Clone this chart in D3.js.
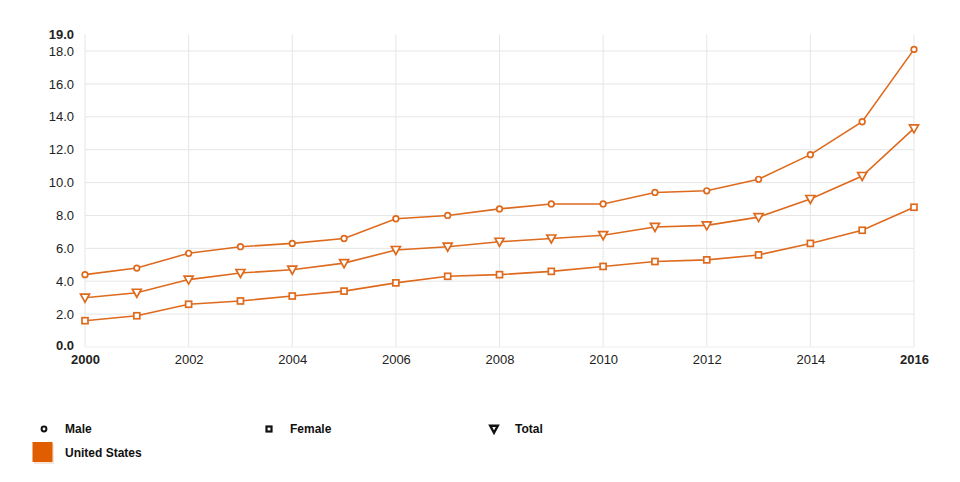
<!DOCTYPE html>
<html><head><meta charset="utf-8">
<script src="https://cdn.jsdelivr.net/npm/d3@7"></script>
<style>
body{margin:0;background:#fff;font-family:"Liberation Sans",Arial,Helvetica,sans-serif;}
</style></head>
<body><svg id="c" width="960" height="482"></svg>
<script>
const years = [2000,2001,2002,2003,2004,2005,2006,2007,2008,2009,2010,2011,2012,2013,2014,2015,2016];
const male   = [4.4,4.8,5.7,6.1,6.3,6.6,7.8,8.0,8.4,8.7,8.7,9.4,9.5,10.2,11.7,13.7,18.1];
const female = [1.6,1.9,2.6,2.8,3.1,3.4,3.9,4.3,4.4,4.6,4.9,5.2,5.3,5.6,6.3,7.1,8.5];
const total  = [3.0,3.3,4.1,4.5,4.7,5.1,5.9,6.1,6.4,6.6,6.8,7.3,7.4,7.9,9.0,10.4,13.3];
const yTicks = [0,2,4,6,8,10,12,14,16,18,19];
const xTicks = [2000,2002,2004,2006,2008,2010,2012,2014,2016];
const seriesNames = ["Male","Female","Total"];
const countryName = "United States";

const color = "#de6a1e";
const svg = d3.select("#c");
const x = d3.scaleLinear().domain([2000,2016]).range([85,914]);
const y = d3.scaleLinear().domain([0,19]).range([347,34.6]);

// grid
const g = svg.append("g");
g.selectAll(".hg").data(yTicks.filter(d=>d>0 && d<19)).enter().append("line")
  .attr("x1",85).attr("x2",914).attr("y1",d=>y(d)).attr("y2",d=>y(d))
  .attr("stroke","#e6e6e6").attr("stroke-width",1);
g.selectAll(".vg").data(xTicks).enter().append("line")
  .attr("x1",d=>x(d)).attr("x2",d=>x(d)).attr("y1",y(19)).attr("y2",y(0))
  .attr("stroke","#e6e6e6").attr("stroke-width",1);
g.append("line").attr("x1",85).attr("x2",914).attr("y1",y(0)).attr("y2",y(0)).attr("stroke","#eeeeee");

// axes labels
const yAxis = d3.axisLeft(y).tickValues(yTicks).tickFormat(d3.format(".1f")).tickSize(0).tickPadding(11);
const ya = svg.append("g").attr("transform","translate(85,0)").call(yAxis);
ya.select(".domain").remove();
ya.selectAll("text").attr("font-size",13).attr("fill","#222")
  .attr("font-family","'Liberation Sans',Arial,sans-serif")
  .attr("font-weight",d=>(d===0||d===19)?"bold":"normal");
ya.selectAll(".tick").filter(d=>d===0).select("text").attr("dy","0.2em");

const xAxis = d3.axisBottom(x).tickValues(xTicks).tickFormat(d3.format("d")).tickSize(0).tickPadding(8);
const xa = svg.append("g").attr("transform",`translate(0,${y(0)})`).call(xAxis);
xa.select(".domain").remove();
xa.selectAll("text").attr("font-size",13).attr("fill","#222")
  .attr("font-family","'Liberation Sans',Arial,sans-serif")
  .attr("font-weight",d=>(d===2000||d===2016)?"bold":"normal");

// lines
const line = d3.line().x((d,i)=>x(years[i])).y(d=>y(d));
const data = [male,female,total];
data.forEach(s=>{
  svg.append("path").datum(s).attr("d",line).attr("fill","none").attr("stroke",color).attr("stroke-width",1.6);
});
const tri = "M-4.5,-3.5L4.5,-3.5L0,4.5Z";
// markers
svg.append("g").selectAll("circle").data(male).enter().append("circle")
  .attr("cx",(d,i)=>x(years[i])).attr("cy",d=>y(d)).attr("r",2.8)
  .attr("fill","#fff").attr("stroke",color).attr("stroke-width",1.7);
svg.append("g").selectAll("rect").data(female).enter().append("rect")
  .attr("x",(d,i)=>x(years[i])-3).attr("y",d=>y(d)-3).attr("width",6).attr("height",6)
  .attr("fill","#fff").attr("stroke",color).attr("stroke-width",1.7);
svg.append("g").selectAll("path").data(total).enter().append("path")
  .attr("d",tri).attr("transform",(d,i)=>`translate(${x(years[i])},${y(d)})`)
  .attr("fill","#fff").attr("stroke",color).attr("stroke-width",1.7);

// legend
const lg = svg.append("g").attr("font-family","'Liberation Sans',Arial,sans-serif").attr("font-size",12).attr("font-weight","bold").attr("fill","#111");
const lx = [44,269,494];
lg.append("circle").attr("cx",lx[0]).attr("cy",429).attr("r",2.4).attr("fill","#fff").attr("stroke","#111").attr("stroke-width",2);
lg.append("rect").attr("x",lx[1]-2.5).attr("y",426.5).attr("width",5).attr("height",5).attr("fill","#fff").attr("stroke","#111").attr("stroke-width",2.2);
lg.append("path").attr("d","M-3.8,-3.3L3.8,-3.3L0,3.8Z").attr("transform",`translate(${lx[2]},429)`).attr("fill","#fff").attr("stroke","#111").attr("stroke-width",2.4).attr("stroke-linejoin","miter");
const tx = [65,290,515];
seriesNames.forEach((n,i)=>{
  lg.append("text").attr("x",tx[i]).attr("y",433).text(n);
});
svg.append("rect").attr("x",34).attr("y",444).attr("width",20).attr("height",20).attr("fill","#f5e6dc");
svg.append("rect").attr("x",32.5).attr("y",442).attr("width",20).attr("height",20).attr("fill","#e05d00");
lg.append("text").attr("x",65).attr("y",457).text(countryName);
</script></body></html>
